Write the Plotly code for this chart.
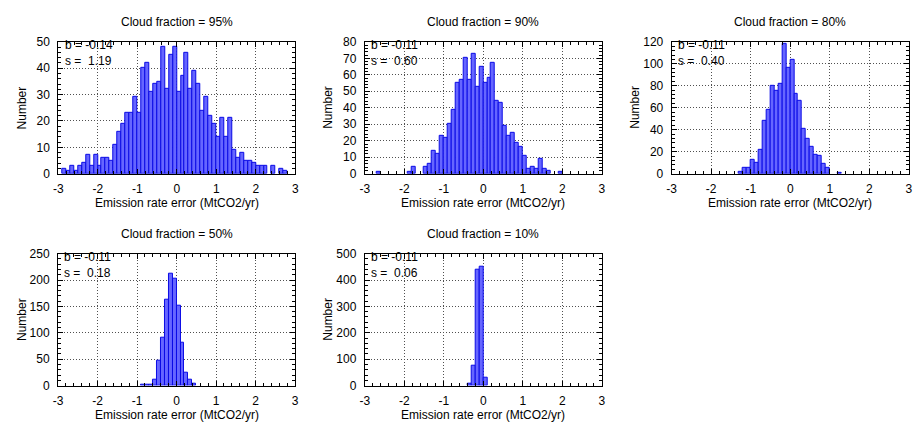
import numpy as np
import plotly.graph_objects as go

# ---------------- data ----------------
BIN_WIDTH = 0.1
titles = ["Cloud fraction = 95%", "Cloud fraction = 90%", "Cloud fraction = 80%",
          "Cloud fraction = 50%", "Cloud fraction = 10%"]
bias_text = ["-0.14", "-0.11", "-0.11", "-0.11", "-0.11"]
spread_text = ["1.19", "0.60", "0.40", "0.18", "0.06"]

first_edge_95 = -2.9
counts_95 = [2, 1, 3, 1, 3, 4, 7, 3, 7, 3,
             6, 6, 5, 11, 16, 19, 23, 23, 29, 23,
             40, 42, 31, 34, 35, 48, 32, 45, 48, 31,
             37, 46, 32, 39, 34, 24, 29, 22, 19, 14,
             21, 14, 21, 9, 6, 8, 5, 5, 4, 3,
             3, 3, 0, 3, 0, 2, 1]

first_edge_90 = -2.7
counts_90 = [1, 0, 0, 0, 0, 0, 0, 0, 1, 4,
             0, 0, 4, 6, 14, 12, 23, 22, 30, 39,
             55, 57, 70, 57, 73, 53, 65, 55, 58, 67,
             44, 43, 29, 23, 25, 19, 16, 11, 3, 4,
             3, 9, 3, 2, 0, 0, 1]

first_edge_80 = -1.3
counts_80 = [2, 5, 5, 13, 10, 22, 48, 58, 80, 75,
             82, 118, 96, 104, 73, 66, 41, 32, 24, 17,
             16, 9, 5, 0, 0, 1]

first_edge_50 = -0.9
counts_50 = [1, 1, 1, 12, 47, 91, 163, 213, 202, 152, 82, 24, 12, 4]

first_edge_10 = -0.4
counts_10 = [7, 75, 441, 451, 29]

first_edges = [first_edge_95, first_edge_90, first_edge_80, first_edge_50, first_edge_10]
all_counts = [counts_95, counts_90, counts_80, counts_50, counts_10]

y_max = [50, 80, 120, 250, 500]
y_dtick = [10, 10, 20, 50, 100]
x_range = [-3, 3]
x_tickvals = [-3, -2, -1, 0, 1, 2, 3]
x_ticktext = ["-3", "-2", "-1", "0", "1", "2", "3"]
x_title = "Emission rate error (MtCO2/yr)"
y_title = "Number"

# ---------------- layout geometry (pixels) ----------------
W, H = 913, 430
PW, PH = 239.5, 136.3
lefts = [53.8, 363.3, 673.3, 53.5, 363.3]
tops = [36.0, 36.0, 36.0, 255.0, 255.0]

FONT = "Liberation Sans, Arial, Helvetica, sans-serif"
FS = 12
BAR_FILL = "#6666ff"
BAR_EDGE = "#0a0ae6"
GRID_COLOR = "#505050"
GRID_DASH = "1px,2px"

def px_x(p):
    return p / W

def px_y(p):
    return 1 - p / H

fig = go.Figure()
annotations = []

for i in range(5):
    n = i + 1
    counts = np.array(all_counts[i], dtype=float)
    centers = first_edges[i] + BIN_WIDTH * (np.arange(len(counts)) + 0.5)
    keep = counts > 0
    fig.add_trace(go.Bar(
        x=centers[keep], y=counts[keep], width=BIN_WIDTH,
        marker=dict(color=BAR_FILL, line=dict(color=BAR_EDGE, width=1)),
        xaxis=f"x{n}", yaxis=f"y{n}", showlegend=False,
        hovertemplate="%{x:.2f}: %{y}<extra></extra>",
    ))
    L, T = lefts[i], tops[i]
    xa = dict(
        domain=[px_x(L), px_x(L + PW)], range=x_range, anchor=f"y{n}",
        tickmode="array", tickvals=x_tickvals, ticktext=x_ticktext,
        ticks="inside", ticklen=5, tickcolor="black", tickwidth=1,
        showline=True, linecolor="black", linewidth=1, mirror="allticks",
        showgrid=True, gridcolor=GRID_COLOR, griddash=GRID_DASH, gridwidth=1,
        zeroline=False, tickfont=dict(family=FONT, size=FS, color="black"),
        ticklabelstandoff=4,
        minor=dict(dtick=0.2, ticks="inside", ticklen=3, tickcolor="black", showgrid=False),
        fixedrange=True,
    )
    ya = dict(
        domain=[px_y(T + PH), px_y(T)], range=[0, y_max[i]], anchor=f"x{n}",
        dtick=y_dtick[i], tick0=0,
        ticks="inside", ticklen=5, tickcolor="black", tickwidth=1,
        showline=True, linecolor="black", linewidth=1, mirror="allticks",
        showgrid=True, gridcolor=GRID_COLOR, griddash=GRID_DASH, gridwidth=1,
        zeroline=False, tickfont=dict(family=FONT, size=FS, color="black"),
        ticklabelstandoff=5,
        minor=dict(dtick=y_dtick[i] / 5, ticks="inside", ticklen=3, tickcolor="black", showgrid=False),
        fixedrange=True,
    )
    fig.layout[f"xaxis{n}" if n > 1 else "xaxis"] = xa
    fig.layout[f"yaxis{n}" if n > 1 else "yaxis"] = ya

    cx = L + PW / 2
    # panel title
    annotations.append(dict(text=titles[i], x=px_x(cx), y=px_y(T - 20), xref="paper", yref="paper",
                            xanchor="center", yanchor="middle", showarrow=False,
                            font=dict(family=FONT, size=FS, color="black")))
    # x-axis title
    annotations.append(dict(text=x_title, x=px_x(cx), y=px_y(T + PH + 30.7), xref="paper", yref="paper",
                            xanchor="center", yanchor="middle", showarrow=False,
                            font=dict(family=FONT, size=FS, color="black")))
    # y-axis title
    annotations.append(dict(text=y_title, x=px_x(L - 37), y=px_y(T + PH / 2), xref="paper", yref="paper",
                            xanchor="center", yanchor="middle", showarrow=False, textangle=-90,
                            font=dict(family=FONT, size=FS, color="black")))
    # statistics (two lines in one text block)
    annotations.append(dict(text="b = " + bias_text[i] + "<br>s = \u00a0" + spread_text[i],
                            x=px_x(L + 5.5), y=px_y(T - 4.5),
                            xref="paper", yref="paper", xanchor="left", yanchor="top",
                            align="left", showarrow=False, borderpad=0,
                            font=dict(family=FONT, size=FS, color="black")))

fig.update_layout(
    width=W, height=H, margin=dict(l=0, r=0, t=0, b=0),
    paper_bgcolor="white", plot_bgcolor="white",
    bargap=0, annotations=annotations,
    font=dict(family=FONT, size=FS, color="black"),
)

fig.write_html("out.html", config={"displayModeBar": False})
